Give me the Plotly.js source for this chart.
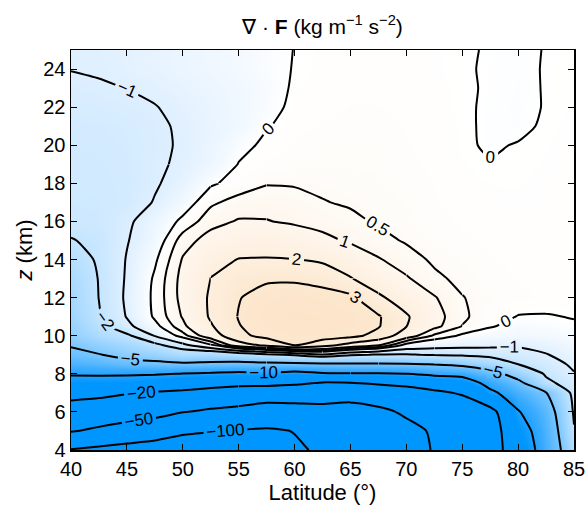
<!DOCTYPE html>
<html>
<head>
<meta charset="utf-8">
<script src="https://cdn.plot.ly/plotly-3.0.1.min.js"></script>
<style>html,body{margin:0;padding:0;background:#fff;}#chart{width:587px;height:505px;}</style>
</head>
<body>
<div id="chart"></div>
<script>
// Latitude (deg) columns and height (km) rows of the field
const lat = [40, 42.5, 45, 47.5, 50, 52.5, 55, 57.5, 60, 62.5, 65, 67.5, 70, 72.5, 75, 77.5, 80, 82.5, 85];
const heightKm = [4, 5, 6, 7, 7.5, 8, 8.5, 9, 9.5, 10, 10.5, 11, 12, 13, 14, 15, 16, 17, 18, 19, 20, 21, 22, 23, 24, 25];

// div F (kg m^-1 s^-2), one row per height
const z4   = [-102, -110, -118, -125, -130, -132, -130, -125, -105, -95, -88, -78, -63, -48, -35, -25, -14, -7.5, -2.8];
const z5   = [-48, -56, -65, -75, -92, -98, -102, -105, -99, -94, -85, -75, -60, -46, -33, -25, -12.5, -7.2, -2.1];
const z6   = [-26, -28, -33, -38, -49, -55, -60, -70, -68, -64, -70, -58, -45, -35, -27, -23, -10.3, -6.5, -1.8];
const z7   = [-16, -17, -19, -21, -22, -24, -27, -28, -28, -30, -30, -28, -26, -22, -19, -11, -7.5, -5.1, -1.5];
const z7_5 = [-12, -12, -12, -13, -15, -16, -17, -17, -18.5, -21, -20.5, -19, -17, -15, -13, -8.5, -5.8, -2.4, -1.3];
const z8   = [-9.6, -9.5, -9.6, -9.7, -10.1, -10.5, -11, -10.5, -11.5, -10.5, -10.3, -10.3, -10.1, -8.8, -8.5, -6.0, -3.8, -1.8, -1.05];
const z8_5 = [-7.3, -6.8, -5.9, -5.6, -5.4, -5.6, -5.8, -5.6, -5.5, -5.4, -5.3, -5.3, -5.2, -4.9, -4.2, -3.2, -2.0, -1.4, -0.85];
const z9   = [-5.8, -5.1, -4.3, -3.8, -3.0, -3.2, -2.8, -2.3, -1.8, -1.1, -1.8, -2.1, -2.1, -1.9, -1.8, -1.6, -1.4, -1.05, -0.6];
const z9_5 = [-4.8, -4.0, -3.3, -2.3, -1.3, -0.1, 1.5, 2.2, 3.05, 2.4, 1.6, 1.05, -0.25, -0.6, -0.7, -0.8, -0.9, -0.7, -0.4];
const z10  = [-4.1, -3.0, -2.2, -0.95, 0.3, 1.45, 2.75, 3.3, 3.45, 3.45, 3.25, 2.7, 1.4, 0.4, -0.1, -0.3, -0.4, -0.35, -0.2];
const z10_5= [-3.8, -2.4, -1.25, -0.2, 0.85, 1.9, 2.95, 3.5, 3.65, 3.65, 3.5, 3.07, 2.02, 1.18, 0.48, 0.05, -0.2, -0.15, -0.05];
const z11  = [-3.5, -2.1, -0.95, 0.1, 1.05, 2.1, 3.05, 3.6, 3.75, 3.7, 3.55, 3.1, 2.1, 1.25, 0.6, 0.2, -0.02, -0.03, 0.02];
const z12  = [-3.3, -1.98, -0.85, 0.15, 1.2, 2.12, 2.95, 3.4, 3.55, 3.45, 3.2, 2.15, 1.55, 1.05, 0.52, 0.32, 0.22, 0.17, 0.15];
const z13  = [-3.05, -1.95, -0.9, 0.1, 1.2, 2.02, 2.6, 2.85, 2.85, 2.6, 2.05, 1.5, 1.07, 0.6, 0.38, 0.25, 0.18, 0.15, 0.14];
const z14  = [-2.6, -1.85, -0.95, -0.1, 1.05, 1.7, 2.03, 2.05, 2.01, 1.85, 1.5, 1.05, 0.7, 0.42, 0.3, 0.2, 0.15, 0.13, 0.13];
const z15  = [-2.05, -1.8, -1.05, -0.4, 0.75, 1.25, 1.5, 1.55, 1.45, 1.2, 0.9, 0.65, 0.45, 0.32, 0.22, 0.15, 0.12, 0.12, 0.12];
const z16  = [-1.7, -1.62, -1.15, -0.55, 0.15, 0.8, 1.05, 1.03, 0.9, 0.75, 0.6, 0.45, 0.35, 0.25, 0.16, 0.11, 0.09, 0.1, 0.11];
const z17  = [-1.6, -1.55, -1.4, -0.95, -0.35, 0.4, 0.7, 0.76, 0.7, 0.52, 0.45, 0.38, 0.3, 0.2, 0.12, 0.08, 0.07, 0.09, 0.1];
const z18  = [-1.55, -1.5, -1.4, -1.08, -0.7, -0.08, 0.2, 0.47, 0.45, 0.42, 0.38, 0.33, 0.27, 0.18, 0.1, 0.06, 0.06, 0.08, 0.1];
const z19  = [-1.5, -1.47, -1.38, -1.12, -0.88, -0.5, 0.02, 0.2, 0.28, 0.3, 0.3, 0.28, 0.23, 0.15, 0.07, 0.02, 0.04, 0.07, 0.1];
const z20  = [-1.45, -1.42, -1.35, -1.18, -0.9, -0.6, -0.15, 0.1, 0.2, 0.25, 0.26, 0.25, 0.2, 0.13, 0.05, -0.04, 0.02, 0.06, 0.09];
const z21  = [-1.4, -1.38, -1.3, -1.15, -0.88, -0.65, -0.4, -0.03, 0.15, 0.2, 0.22, 0.22, 0.18, 0.12, 0.05, -0.05, -0.08, 0.05, 0.08];
const z22  = [-1.3, -1.25, -1.18, -1.03, -0.8, -0.6, -0.4, -0.16, 0.1, 0.15, 0.19, 0.19, 0.16, 0.1, 0.04, -0.04, -0.09, 0.02, 0.07];
const z23  = [-1.15, -1.08, -0.99, -0.85, -0.7, -0.55, -0.38, -0.18, 0.05, 0.13, 0.17, 0.17, 0.14, 0.09, 0.04, -0.03, -0.08, 0.02, 0.07];
const z24  = [-0.98, -0.92, -0.82, -0.7, -0.56, -0.43, -0.3, -0.14, 0.02, 0.1, 0.14, 0.14, 0.12, 0.08, 0.03, -0.03, -0.07, 0.02, 0.06];
const z25  = [-0.95, -0.9, -0.8, -0.7, -0.55, -0.42, -0.3, -0.15, 0.01, 0.08, 0.12, 0.12, 0.1, 0.07, 0.03, -0.02, -0.05, 0.01, 0.05];

const divF = [z4, z5, z6, z7, z7_5, z8, z8_5, z9, z9_5, z10, z10_5, z11, z12, z13, z14, z15, z16, z17, z18, z19, z20, z21, z22, z23, z24, z25];

// contour levels drawn as lines
const levels = [-100, -50, -20, -10, -5, -2, -1, 0, 0.5, 1, 2, 3];

// where each level's label should sit: [latMin, latMax, zMin, zMax] windows (style only)
const labelWindows = {
  '-100': [[40, 62.5, 4, 6]],
  '-50':  [[40, 55, 4, 7]],
  '-20':  [[40, 55, 6, 8]],
  '-10':  [[45, 65, 7, 9]],
  '-5':   [[42.5, 57.5, 8, 10], [67.5, 80, 7, 9]],
  '-2':   [[40, 47.5, 9.5, 16]],
  '-1':   [[40, 50, 19, 25], [72.5, 85, 8, 10.5]],
  '0':    [[52.5, 62.5, 18, 25], [72.5, 85, 18, 25], [72.5, 85, 9.5, 12]],
  '0.5':  [[57.5, 75, 12, 19]],
  '1':    [[57.5, 70, 13, 17]],
  '2':    [[52.5, 67.5, 13, 15]],
  '3':    [[52.5, 70, 11, 13]]
};

// colour map (style)
const cVals = [-12, -8, -5, -3, -2, -1, -0.3, 0, 0.5, 1, 2, 3, 3.8];
const cCols = ['rgb(0,150,255)', 'rgb(60,172,255)', 'rgb(122,198,255)', 'rgb(172,219,255)', 'rgb(196,229,255)',
               'rgb(222,239,255)', 'rgb(243,249,255)', 'rgb(255,255,255)', 'rgb(254,251,246)', 'rgb(254,246,237)',
               'rgb(253,239,222)', 'rgb(252,232,208)', 'rgb(252,228,200)'];
const cMin = cVals[0], cMax = cVals[cVals.length - 1];
const colorscale = cVals.map((v, i) => [(v - cMin) / (cMax - cMin), cCols[i]]);

const FONT = 'Liberation Sans, Arial, sans-serif';
const nC = lat.length, nR = heightKm.length;

function subgrid(c0, c1, r0, r1) {
  return {
    x: lat.slice(c0, c1 + 1),
    y: heightKm.slice(r0, r1 + 1),
    z: divF.slice(r0, r1 + 1).map(row => row.slice(c0, c1 + 1))
  };
}
function uniqSorted(a) { return Array.from(new Set(a)).sort((p, q) => p - q); }

const traces = [{
  type: 'heatmap', x: lat, y: heightKm, z: divF,
  zmin: cMin, zmax: cMax, colorscale: colorscale, zsmooth: 'best',
  showscale: false, hoverinfo: 'skip'
}];

levels.forEach(L => {
  const rects = (labelWindows[String(L)] || []).map(w => ({
    c0: lat.indexOf(w[0]), c1: lat.indexOf(w[1]), r0: heightKm.indexOf(w[2]), r1: heightKm.indexOf(w[3])
  }));
  const colCuts = uniqSorted([0, nC - 1].concat(...rects.map(r => [r.c0, r.c1])));
  for (let i = 0; i < colCuts.length - 1; i++) {
    const ca = colCuts[i], cb = colCuts[i + 1];
    const bandRects = rects.filter(r => r.c0 <= ca && r.c1 >= cb);
    const rowCuts = uniqSorted([0, nR - 1].concat(...bandRects.map(r => [r.r0, r.r1])));
    for (let j = 0; j < rowCuts.length - 1; j++) {
      const ra = rowCuts[j], rb = rowCuts[j + 1];
      const labeled = bandRects.some(r => r.r0 <= ra && r.r1 >= rb);
      const g = subgrid(ca, cb, ra, rb);
      traces.push({
        type: 'contour', x: g.x, y: g.y, z: g.z,
        autocontour: false,
        contours: { start: L, end: L, size: 1, coloring: 'none', showlabels: labeled,
                    labelfont: { family: FONT, size: 17, color: '#000' } },
        line: { color: '#000', width: 2, smoothing: 0.6 },
        showscale: false, hoverinfo: 'skip'
      });
    }
  }
});

const layout = {
  width: 587, height: 505,
  margin: { l: 71, r: 13, t: 50, b: 55 },
  paper_bgcolor: '#fff', plot_bgcolor: '#fff',
  font: { family: FONT, size: 20, color: '#000' },
  showlegend: false,
  title: { text: '∇ · <b>F</b> (kg m<sup>−1</sup> s<sup>−2</sup>)', font: { family: FONT, size: 21, color: '#000' },
           x: 0.5, xref: 'paper', xanchor: 'center', y: 0.948, yref: 'container', yanchor: 'middle' },
  xaxis: {
    range: [40, 85], tickmode: 'array', tickvals: [40, 45, 50, 55, 60, 65, 70, 75, 80, 85],
    ticks: 'inside', ticklen: 6, tickwidth: 1, tickcolor: '#000',
    showline: true, linecolor: '#000', linewidth: 1.5, mirror: 'ticks',
    showgrid: false, zeroline: false, tickfont: { family: FONT, size: 20 },
    title: { text: 'Latitude (°)', font: { family: FONT, size: 22 }, standoff: 6 }
  },
  yaxis: {
    range: [4, 25], tickmode: 'array', tickvals: [4, 6, 8, 10, 12, 14, 16, 18, 20, 22, 24],
    ticks: 'inside', ticklen: 6, tickwidth: 1, tickcolor: '#000',
    showline: true, linecolor: '#000', linewidth: 1.5, mirror: 'ticks',
    showgrid: false, zeroline: false, tickfont: { family: FONT, size: 20 },
    title: { text: '<i>z</i> (km)', font: { family: FONT, size: 22 }, standoff: 4 }
  }
};

Plotly.newPlot('chart', traces, layout, { staticPlot: true });
</script>
</body>
</html>
